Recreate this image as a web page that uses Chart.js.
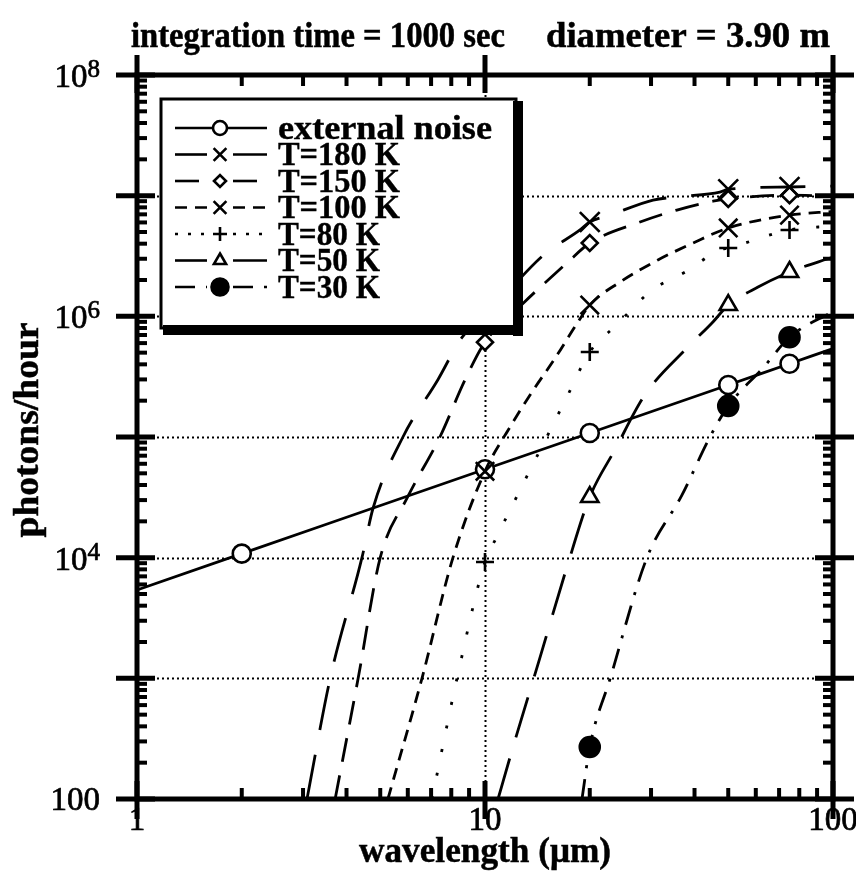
<!DOCTYPE html>
<html>
<head>
<meta charset="utf-8">
<script src="https://cdn.jsdelivr.net/npm/chart.js@4/dist/chart.umd.min.js"></script>
<style>
  html, body { margin: 0; padding: 0; background: #fff; }
  #wrap { width: 856px; height: 873px; }
</style>
</head>
<body>
<div id="wrap"><canvas id="c" width="856" height="873"></canvas></div>
<script>
// ---- text ----
const titleLeft = 'integration time = 1000 sec';
const titleRight = 'diameter = 3.90 m';
const xTitle = 'wavelength (μm)';
const yTitle = 'photons/hour';
const xTickValues = [1, 10, 100];
const xTickLabels = ['1', '10', '100'];
const yTickValues = [1e8, 1e6, 1e4, 1e2];
const yTickBase = ['10', '10', '10', '100'];
const yTickExp = ['8', '6', '4', ''];
const legendLabels = ['external noise', 'T=180 K', 'T=150 K', 'T=100 K', 'T=80 K', 'T=50 K', 'T=30 K'];

// ---- series: wavelength (μm) and photons/hour ----
const noiseX = [1, 2, 10, 20, 50, 75, 100];
const noiseY = [5400, 10800, 54000, 108000, 270000, 405000, 540000];
const noiseMarkAt = [2, 10, 20, 50, 75];

const t180X = [3.08, 3.59, 4.43, 4.77, 5.81, 7.33, 8.59, 10, 14.7, 18.75, 20, 22.9, 30.4, 36.3, 47.3, 50, 75, 100];
const t180Y = [100, 1000, 1.0e4, 2.58e4, 1.0e5, 3.0e5, 6.7e5, 1.0e6, 3.2e6, 5.2e6, 6.05e6, 6.9e6, 9.2e6, 9.8e6, 1.07e7, 1.13e7, 1.18e7, 1.2e7];
const t180MarkAt = [10, 20, 50, 75];

const t150X = [3.71, 4.32, 5.0, 6.0, 7.42, 8.76, 10, 12.9, 17.2, 20, 27.9, 35.6, 45.2, 50, 75, 100];
const t150Y = [100, 1000, 1.0e4, 3.2e4, 1.0e5, 2.97e5, 6.1e5, 1.29e6, 2.77e6, 4.05e6, 6.05e6, 7.6e6, 9.0e6, 9.4e6, 1.01e7, 9.9e6];
const t150MarkAt = [10, 20, 50, 75];

const t100X = [5.26, 6.59, 8.09, 10, 11.8, 13.65, 15.9, 18.5, 20, 24.4, 31.4, 39.6, 50, 75, 100];
const t100Y = [100, 1000, 1.0e4, 5.2e4, 1.21e5, 2.36e5, 4.5e5, 8.97e5, 1.24e6, 1.92e6, 2.93e6, 4.05e6, 5.4e6, 6.9e6, 7.4e6];
const t100MarkAt = [10, 20, 50, 75];

const t80X = [7.04, 8.31, 10, 10.8, 12.2, 13.7, 15.4, 17.3, 20, 23.9, 30.2, 37.6, 47.3, 50, 75, 100];
const t80Y = [100, 1000, 9.2e3, 1.48e4, 3.0e4, 5.86e4, 1.14e5, 2.23e5, 5.06e5, 8.5e5, 1.65e6, 2.33e6, 3.55e6, 3.68e6, 5.2e6, 5.6e6];
const t80MarkAt = [10, 20, 50, 75];

const t50X = [10.9, 12.04, 14.4, 17.2, 20, 23.6, 28.8, 38.3, 44.9, 50, 60.9, 75, 100];
const t50Y = [100, 270, 1500, 8370, 3.18e4, 7.8e4, 2.23e5, 5.57e5, 8.8e5, 1.24e6, 1.75e6, 2.33e6, 3.1e6];
const t50MarkAt = [20, 50, 75];

const t30X = [19.0, 20, 22.9, 29.2, 36.8, 44.3, 50, 62.9, 75, 100];
const t30Y = [100, 270, 1000, 1.0e4, 3.3e4, 1.0e5, 1.81e5, 3.73e5, 6.7e5, 1.1e6];
const t30MarkAt = [20, 50, 75];

// ---- helpers ----
const SERIF = '"Liberation Serif", "Times New Roman", serif';
const pts = (xs, ys) => xs.map((x, i) => ({ x, y: ys[i] }));
const radii = (xs, at, r) => xs.map(x => (at.includes(x) ? r : 0));

function curve(label, xs, ys, markAt, style) {
  return Object.assign({
    label,
    data: pts(xs, ys),
    borderColor: '#000',
    borderWidth: 2.8,
    fill: false,
    cubicInterpolationMode: 'monotone',
    pointRadius: radii(xs, markAt, style.r),
    pointBorderColor: '#000',
    pointBackgroundColor: '#fff',
    pointBorderWidth: 2.6,
    clip: 2,
    order: 0
  }, style.opts);
}

const datasets = [
  curve(legendLabels[0], noiseX, noiseY, noiseMarkAt, { r: 9, opts: { pointStyle: 'circle', borderDash: [], order: 10, legendR: 7 } }),
  curve(legendLabels[1], t180X, t180Y, t180MarkAt, { r: 14, opts: { pointStyle: 'crossRot', borderDash: [45, 25], legendR: 9 } }),
  curve(legendLabels[2], t150X, t150Y, t150MarkAt, { r: 8, opts: { pointStyle: 'rectRot', borderDash: [24, 14], legendR: 6 } }),
  curve(legendLabels[3], t100X, t100Y, t100MarkAt, { r: 13, opts: { pointStyle: 'crossRot', borderDash: [12, 8], legendR: 9 } }),
  curve(legendLabels[4], t80X, t80Y, t80MarkAt, { r: 9, opts: { pointStyle: 'cross', borderDash: [3, 21], legendDash: [3, 10], legendR: 7 } }),
  curve(legendLabels[5], t50X, t50Y, t50MarkAt, { r: 10, opts: { pointStyle: 'triangle', borderDash: [42, 22], legendR: 7 } }),
  curve(legendLabels[6], t30X, t30Y, t30MarkAt, { r: 10, opts: { pointStyle: 'circle', borderDash: [20, 11, 3, 11], pointBackgroundColor: '#000', legendR: 8.5 } })
];

// draws text squeezed or stretched to a given width; optional stroke thickens the glyphs
function fitText(ctx, text, x, y, font, width, align, heavy) {
  ctx.font = font;
  const w = ctx.measureText(text).width;
  const sx = width ? width / w : 1;
  ctx.save();
  ctx.translate(x, y);
  ctx.scale(sx, 1);
  ctx.textAlign = align || 'left';
  ctx.textBaseline = 'alphabetic';
  ctx.fillText(text, 0, 0);
  if (heavy) {
    ctx.lineWidth = heavy;
    ctx.strokeStyle = '#000';
    ctx.strokeText(text, 0, 0);
  }
  ctx.restore();
}

function plainText(ctx, text, x, y, font, align) {
  ctx.font = font;
  ctx.textAlign = align;
  ctx.textBaseline = 'alphabetic';
  ctx.fillText(text, x, y);
  ctx.lineWidth = 0.7;
  ctx.strokeStyle = '#000';
  ctx.strokeText(text, x, y);
}

// grid, frame, ticks, labels and the boxed key
const decor = {
  id: 'decor',
  beforeDatasetsDraw(chart) {
    const { ctx, chartArea: a, scales: { x, y } } = chart;
    ctx.save();
    ctx.strokeStyle = '#000';
    ctx.lineWidth = 2;
    ctx.setLineDash([2, 3]);
    [1e3, 1e4, 1e5, 1e6, 1e7].forEach(v => {
      const py = Math.round(y.getPixelForValue(v)) + 0.5;
      ctx.beginPath(); ctx.moveTo(a.left, py); ctx.lineTo(a.right, py); ctx.stroke();
    });
    [10].forEach(v => {
      const px = Math.round(x.getPixelForValue(v)) + 0.5;
      ctx.beginPath(); ctx.moveTo(px, a.top); ctx.lineTo(px, a.bottom); ctx.stroke();
    });
    ctx.restore();
  },
  afterDatasetsDraw(chart) {
    const { ctx, chartArea: a, scales: { x, y } } = chart;
    ctx.save();
    ctx.strokeStyle = '#000';
    ctx.fillStyle = '#000';
    ctx.setLineDash([]);
    ctx.lineCap = 'butt';

    // minor ticks
    ctx.lineWidth = 4;
    for (let d = 2; d < 8; d++) {
      for (let k = 2; k <= 9; k++) {
        const py = y.getPixelForValue(k * Math.pow(10, d));
        ctx.beginPath(); ctx.moveTo(a.left, py); ctx.lineTo(a.left + 10, py); ctx.stroke();
        ctx.beginPath(); ctx.moveTo(a.right, py); ctx.lineTo(a.right - 10, py); ctx.stroke();
      }
    }
    for (let d = 0; d < 2; d++) {
      for (let k = 2; k <= 9; k++) {
        const px = x.getPixelForValue(k * Math.pow(10, d));
        ctx.beginPath(); ctx.moveTo(px, a.bottom); ctx.lineTo(px, a.bottom - 11); ctx.stroke();
        ctx.beginPath(); ctx.moveTo(px, a.top); ctx.lineTo(px, a.top + 11); ctx.stroke();
      }
    }

    // major ticks
    ctx.lineWidth = 5;
    for (let d = 2; d <= 8; d++) {
      const py = y.getPixelForValue(Math.pow(10, d));
      ctx.beginPath(); ctx.moveTo(a.left - 21, py); ctx.lineTo(a.left + 18, py); ctx.stroke();
      ctx.beginPath(); ctx.moveTo(a.right - 18, py); ctx.lineTo(a.right + 21, py); ctx.stroke();
    }
    xTickValues.forEach(v => {
      const px = x.getPixelForValue(v);
      ctx.beginPath(); ctx.moveTo(px, a.bottom + 20); ctx.lineTo(px, a.bottom - 18); ctx.stroke();
      ctx.beginPath(); ctx.moveTo(px, a.top - 20); ctx.lineTo(px, a.top + 18); ctx.stroke();
    });

    // frame
    ctx.lineWidth = 5;
    ctx.strokeRect(a.left, a.top, a.right - a.left, a.bottom - a.top);

    // tick labels
    xTickValues.forEach((v, i) => {
      plainText(ctx, xTickLabels[i], x.getPixelForValue(v), a.bottom + 31, '33px ' + SERIF, 'center');
    });
    yTickValues.forEach((v, i) => {
      const py = y.getPixelForValue(v);
      const right = 100;
      if (yTickExp[i]) {
        ctx.font = '25px ' + SERIF;
        const ew = ctx.measureText(yTickExp[i]).width;
        plainText(ctx, yTickExp[i], right, py + 2, '25px ' + SERIF, 'right');
        plainText(ctx, yTickBase[i], right - ew, py + 12, '33px ' + SERIF, 'right');
      } else {
        plainText(ctx, yTickBase[i], right, py + 11, '33px ' + SERIF, 'right');
      }
    });

    // titles
    fitText(ctx, titleLeft, 131, 47, 'bold 35px ' + SERIF, 374, 'left', 0.5);
    fitText(ctx, titleRight, 830, 47, 'bold 35px ' + SERIF, 284, 'right', 0.5);
    fitText(ctx, xTitle, (a.left + a.right) / 2, 862, 'bold 35px ' + SERIF, 252, 'center', 0.5);
    ctx.save();
    ctx.translate(38, 430);
    ctx.rotate(-Math.PI / 2);
    fitText(ctx, yTitle, 0, 0, 'bold 35px ' + SERIF, 215, 'center', 0.5);
    ctx.restore();

    // key box with heavy shadow
    const L = { left: 161, top: 99, right: 516, bottom: 328 };
    ctx.fillStyle = '#fff';
    ctx.fillRect(L.left, L.top, L.right - L.left, L.bottom - L.top);
    ctx.fillStyle = '#000';
    ctx.fillRect(L.right - 3, L.top + 2, 10, L.bottom - L.top + 6);
    ctx.fillRect(L.left + 2, L.bottom - 3, L.right - L.left + 5, 10);
    ctx.lineWidth = 3;
    ctx.strokeRect(L.left, L.top, L.right - L.left, L.bottom - L.top);

    const labelWidths = [214, 122, 122, 122, 102, 102, 102];
    chart.data.datasets.forEach((ds, i) => {
      const ry = 128 + i * 26.5;
      const mx = 220;
      ctx.save();
      ctx.strokeStyle = '#000';
      ctx.lineWidth = 2.6;
      ctx.setLineDash(ds.legendDash || ds.borderDash || []);
      const gap = (ds.borderDash && ds.borderDash.length) ? 13 : 0;
      ctx.beginPath(); ctx.moveTo(175, ry); ctx.lineTo(mx - gap, ry); ctx.stroke();
      ctx.beginPath(); ctx.moveTo(mx + gap, ry); ctx.lineTo(267, ry); ctx.stroke();
      ctx.setLineDash([]);
      ctx.fillStyle = ds.pointBackgroundColor;
      ctx.strokeStyle = '#000';
      ctx.lineWidth = 2.6;
      Chart.helpers.drawPoint(ctx, { pointStyle: ds.pointStyle, radius: ds.legendR, rotation: 0, borderWidth: 2.6 }, mx, ry);
      ctx.restore();
      ctx.fillStyle = '#000';
      fitText(ctx, legendLabels[i], 278, ry + 10.5, 'bold 33px ' + SERIF, labelWidths[i], 'left', 0.4);
    });
    ctx.restore();
  }
};

new Chart(document.getElementById('c'), {
  type: 'line',
  data: { datasets },
  options: {
    responsive: false,
    animation: false,
    devicePixelRatio: 1,
    layout: { padding: { left: 137, right: 23, top: 75, bottom: 74 } },
    plugins: { legend: { display: false }, tooltip: { enabled: false }, title: { display: false } },
    scales: {
      x: { type: 'logarithmic', min: 1, max: 100, display: false },
      y: { type: 'logarithmic', min: 100, max: 1e8, display: false }
    }
  },
  plugins: [decor]
});
</script>
</body>
</html>
